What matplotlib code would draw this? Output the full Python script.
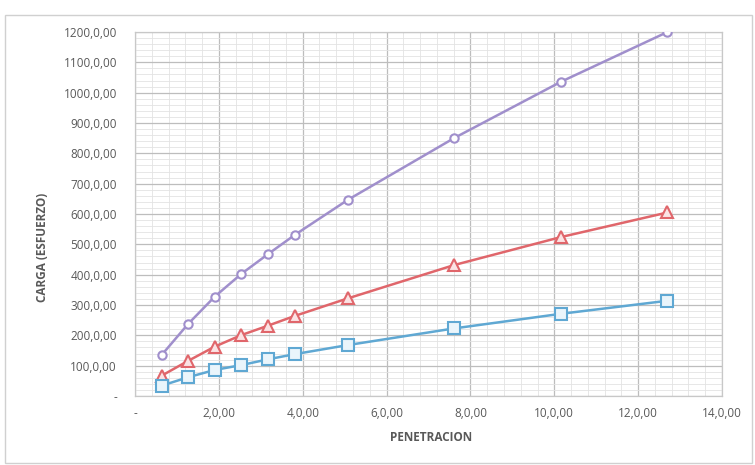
import matplotlib.pyplot as plt
from matplotlib.ticker import MultipleLocator, FuncFormatter
from matplotlib.patches import Rectangle

plt.rcParams["font.family"] = ["Open Sans", "DejaVu Sans"]

# Penetracion (mm) y cargas
penetracion = [0.635, 1.27, 1.905, 2.54, 3.175, 3.81, 5.08, 7.62, 10.16, 12.7]
carga_alta = [135, 238, 328, 403, 468, 531, 647, 851, 1036, 1200]
carga_media = [67, 116, 163, 201, 232, 264, 322, 432, 524, 605]
carga_baja = [34, 62, 86, 102, 121, 138, 168, 223, 271, 314]

fig = plt.figure(figsize=(7.55, 4.65), dpi=100)
ax = fig.add_axes([135 / 755, 1 - 396 / 465, 587 / 755, 364 / 465])

# marco exterior del grafico
fig.patches.append(Rectangle((5 / 755, 2 / 465), 747 / 755, 448 / 465, transform=fig.transFigure,
                             fill=False, edgecolor="#d0d0d0", linewidth=1))

ax.plot(penetracion, carga_alta, color="#a08fcc", linewidth=1.8, marker="o", markersize=6,
        markerfacecolor="white", markeredgecolor="#a08fcc", markeredgewidth=1.5, zorder=5)
ax.plot(penetracion, carga_media, color="#e0666b", linewidth=1.8, marker="^", markersize=8,
        markerfacecolor="#fbe3e4", markeredgecolor="#e0666b", markeredgewidth=1.5, zorder=5)
ax.plot(penetracion, carga_baja, color="#5fa8d3", linewidth=1.8, marker="s", markersize=8,
        markerfacecolor="#eaf5fb", markeredgecolor="#5fa8d3", markeredgewidth=1.5, zorder=5)

ax.set_xlim(0, 14)
ax.set_ylim(0, 1200)
ax.xaxis.set_major_locator(MultipleLocator(2))
ax.yaxis.set_major_locator(MultipleLocator(100))
ax.xaxis.set_minor_locator(MultipleLocator(0.4))
ax.yaxis.set_minor_locator(MultipleLocator(20))


def fmt(v, pos):
    if abs(v) < 1e-9:
        return "-"
    return f"{v:.0f},0,00"


ax.xaxis.set_major_formatter(FuncFormatter(fmt))
ax.yaxis.set_major_formatter(FuncFormatter(fmt))

ax.grid(which="major", color="#bdbdbd", linewidth=0.9)
ax.grid(which="minor", color="#e3e3e3", linewidth=0.6)
ax.set_axisbelow(True)
for s in ax.spines.values():
    s.set_color("#c8c8c8")
    s.set_linewidth(0.9)

ax.tick_params(which="both", length=0, colors="#595959", labelsize=8.5)
ax.tick_params(axis="x", pad=8)
ax.tick_params(axis="y", pad=13)

fig.text(431 / 755, 1 - 437 / 465, "PENETRACION", fontsize=8.5, color="#595959",
         fontweight="bold", ha="center", va="center")
fig.text(43 / 755, 1 - 247 / 465, "CARGA (ESFUERZO)", fontsize=8.5, color="#595959",
         fontweight="bold", ha="center", va="center", rotation=90)

fig.savefig("out.png", dpi=100)
